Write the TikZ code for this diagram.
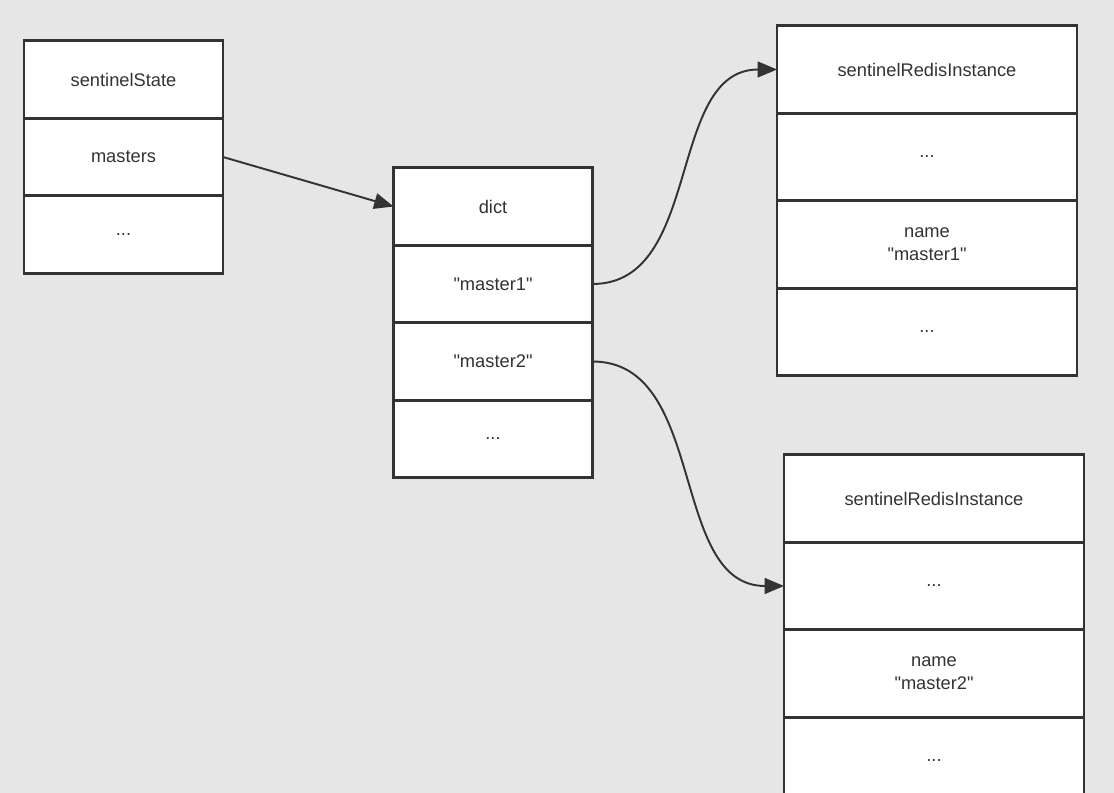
\documentclass[tikz,border=0pt]{standalone}
\usepackage{fontspec}
\setmainfont{Liberation Sans}[Ligatures=TeXOff]
\usetikzlibrary{positioning,arrows.meta}
\definecolor{BgGray}{HTML}{E6E6E6}
\definecolor{LineDark}{HTML}{333333}

\begin{document}
\begin{tikzpicture}[
    cell/.style={draw=LineDark, fill=white, line width=1.5pt, outer sep=0pt,
                 align=center, inner sep=2pt, text=LineDark,
                 font=\fontsize{10.4}{13}\selectfont},
    small/.style={cell, minimum width=3.98cm, minimum height=1.55cm},
    wide/.style={cell, minimum width=6cm, minimum height=1.75cm},
    link/.style={draw=LineDark, line width=1.1pt,
                 -{Triangle[length=11pt,width=9pt]}},
  ]
  \fill[BgGray] (0,0) rectangle (22.28,-15.86);
  \useasboundingbox (0,0) rectangle (22.28,-15.86);

  % sentinelState
  \node[small] (state) at (2.47,-1.59) {sentinelState};
  \node[small, below=0pt of state] (masters) {masters};
  \node[small, below=0pt of masters] (stateRest) {...};

  % dict
  \node[small] (dict) at (9.86,-4.13) {dict};
  \node[small, below=0pt of dict] (keyOne) {"master1"};
  \node[small, below=0pt of keyOne] (keyTwo) {"master2"};
  \node[small, below=0pt of keyTwo] (dictRest) {...};

  % master1 instance
  \node[wide] (instOne) at (18.54,-1.39) {sentinelRedisInstance};
  \node[wide, below=0pt of instOne] (instOneA) {...};
  \node[wide, below=0pt of instOneA] (instOneName) {name\\"master1"};
  \node[wide, below=0pt of instOneName] (instOneB) {...};

  % master2 instance
  \node[wide] (instTwo) at (18.68,-9.97) {sentinelRedisInstance};
  \node[wide, below=0pt of instTwo] (instTwoA) {...};
  \node[wide, below=0pt of instTwoA] (instTwoName) {name\\"master2"};
  \node[wide, below=0pt of instTwoName] (instTwoB) {...};

  \draw[link] (masters.east) -- (dict.west);
  \draw[link] (keyOne.east) to[out=0, in=180] (instOne.west);
  \draw[link] (keyTwo.east) to[out=0, in=180] (instTwoA.west);
\end{tikzpicture}
\end{document}
